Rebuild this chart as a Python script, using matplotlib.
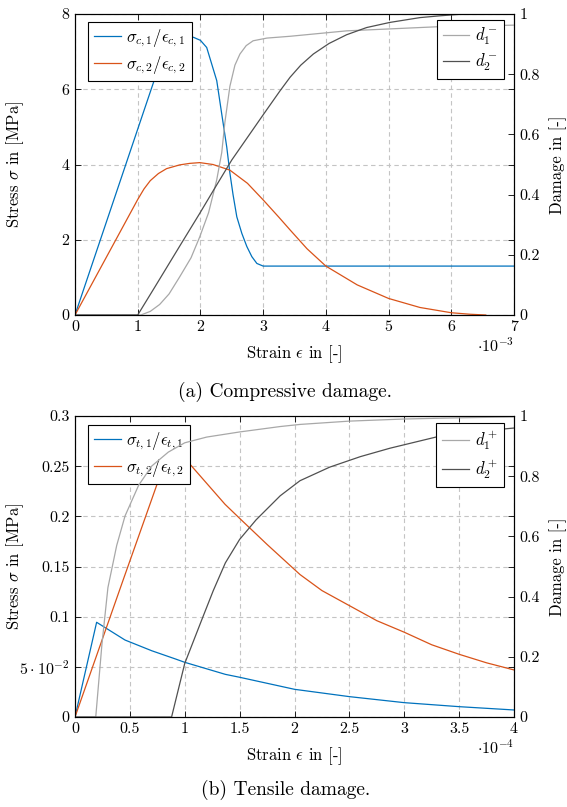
import numpy as np
import matplotlib
matplotlib.use('Agg')
import matplotlib.pyplot as plt

plt.rcParams['font.family'] = 'serif'
plt.rcParams['font.serif'] = ['cmr10']
plt.rcParams['mathtext.fontset'] = 'cm'
plt.rcParams['axes.unicode_minus'] = False
plt.rcParams['axes.formatter.use_mathtext'] = True
plt.rcParams['font.size'] = 12
plt.rcParams['axes.linewidth'] = 0.8

BLUE = '#0072bd'
ORANGE = '#d95319'
LIGHT = '#a8a8a8'
DARK = '#505050'
GRID = '#c4c4c4'

## COMPRESSIVE DATA (strain in 1e-3, stress in MPa)
eps_c1 = [0, 1.0, 1.3, 1.45, 1.6, 1.75, 1.89, 2.0, 2.1, 2.26, 2.34, 2.42, 2.47,
          2.52, 2.58, 2.66, 2.74, 2.82, 2.9, 3.0, 7.0]
sig_c1 = [0, 4.94, 6.42, 7.02, 7.3, 7.4, 7.38, 7.3, 7.11, 6.23, 5.34, 4.46, 3.77,
          3.2, 2.61, 2.17, 1.82, 1.55, 1.37, 1.30, 1.30]

eps_c2 = [0, 1.0, 1.1, 1.2, 1.33, 1.46, 1.67, 1.83, 1.99, 2.2, 2.47, 2.75, 3.0,
          3.25, 3.43, 3.7, 4.0, 4.5, 5.0, 5.5, 6.0, 6.3, 6.55]
sig_c2 = [0, 3.07, 3.35, 3.57, 3.76, 3.89, 3.99, 4.03, 4.05, 4.0, 3.85, 3.5, 3.06,
          2.6, 2.26, 1.76, 1.30, 0.80, 0.44, 0.20, 0.06, 0.02, 0.0]

eps_d1c = [0, 1.05, 1.2, 1.35, 1.5, 1.67, 1.85, 1.99, 2.13, 2.26, 2.34, 2.39,
           2.47, 2.55, 2.63, 2.73, 2.84, 3.06, 3.43, 4.33, 5.82, 7.0]
d1c = [0, 0, 0.012, 0.035, 0.07, 0.127, 0.19, 0.26, 0.34, 0.449, 0.54, 0.64,
       0.76, 0.83, 0.867, 0.895, 0.911, 0.92, 0.926, 0.944, 0.958, 0.963]

eps_d2c = [0, 1.0, 1.25, 1.67, 1.99, 2.21, 2.5, 3.0, 3.27, 3.43, 3.6, 3.8, 4.05,
           4.33, 4.65, 5.02, 5.5, 5.82, 6.2, 7.0]
d2c = [0, 0, 0.085, 0.229, 0.338, 0.415, 0.515, 0.665, 0.745, 0.79, 0.83, 0.867,
       0.902, 0.931, 0.955, 0.972, 0.988, 0.994, 1.0, 1.0]

## TENSILE DATA (strain in 1e-4, stress in MPa)
eps_t1 = [0, 0.197, 0.456, 0.7, 0.911, 1.0, 1.37, 1.5, 2.0, 2.5, 3.0, 3.5, 4.0]
sig_t1 = [0, 0.0944, 0.0767, 0.066, 0.058, 0.0545, 0.0425, 0.0396, 0.0276,
          0.0203, 0.0143, 0.0103, 0.0070]

eps_t2 = [0, 0.44, 0.78, 0.88, 1.063, 1.367, 1.5, 1.75, 2.05, 2.25, 2.5, 2.75,
          3.0, 3.25, 3.5, 3.75, 4.0]
sig_t2 = [0, 0.137, 0.242, 0.273, 0.250, 0.212, 0.198, 0.172, 0.142, 0.126,
          0.111, 0.096, 0.0845, 0.072, 0.0625, 0.054, 0.0469]

eps_d1t = [0, 0.189, 0.245, 0.30, 0.38, 0.456, 0.58, 0.70, 0.85, 1.0, 1.2,
           1.5, 1.87, 2.05, 2.5, 3.0, 3.5, 4.0]
d1t = [0, 0, 0.24, 0.43, 0.57, 0.668, 0.77, 0.834, 0.88, 0.911, 0.93, 0.947,
       0.965, 0.972, 0.983, 0.99, 0.994, 0.997]

eps_d2t = [0, 0.88, 1.0, 1.154, 1.26, 1.37, 1.5, 1.65, 1.87, 2.05, 2.32, 2.6,
           2.87, 3.3, 3.7, 4.0]
d2t = [0, 0, 0.178, 0.322, 0.42, 0.512, 0.59, 0.655, 0.735, 0.785, 0.83, 0.865,
       0.893, 0.931, 0.95, 0.96]

## PLOTS

def styleAxes(ax1, ax2, xlim, ylim, xticks, yticks, ylabels, scale):
  ax1.set(xlim=xlim, ylim=ylim)
  ax2.set(ylim=[0, 1])
  ax1.set_xticks(xticks)
  ax1.set_xticklabels(['{:g}'.format(t) for t in xticks])
  ax1.set_yticks(yticks)
  ax1.set_yticklabels(ylabels)
  ax2.set_yticks([0, 0.2, 0.4, 0.6, 0.8, 1.0])
  ax2.set_yticklabels(['0', '0.2', '0.4', '0.6', '0.8', '1'])
  ax1.grid(True, color=GRID, ls=(0, (4, 3)), lw=0.8)
  ax1.set_axisbelow(True)
  ax1.tick_params(direction='in', length=4, width=0.6, pad=4,
                  top=True, right=True, labelsize=11.5)
  ax2.tick_params(direction='in', length=4, width=0.6, pad=4, labelsize=11.5)
  ax1.set_xlabel(r'Strain $\epsilon$ in [-]', fontsize=12)
  ax1.xaxis.set_label_coords(0.5, -0.095)
  ax1.set_ylabel(r'Stress $\sigma$ in [MPa]', fontsize=12)
  ax1.yaxis.set_label_coords(-0.112, 0.5)
  ax2.set_ylabel('Damage in [-]', fontsize=12)
  ax2.yaxis.set_label_coords(1.081, 0.5)
  ax1.text(1.0, -0.102, r'$\cdot10^{%d}$' % scale, transform=ax1.transAxes,
           ha='right', va='center', fontsize=11.5)

def legendBox(ax, loc, anchor):
  leg = ax.legend(loc=loc, bbox_to_anchor=anchor, borderaxespad=0,
                  fancybox=False, framealpha=1, edgecolor='k',
                  handlelength=1.6, handletextpad=0.35, labelspacing=0.3,
                  borderpad=0.35, fontsize=12)
  leg.get_frame().set_linewidth(0.8)
  return leg

fig = plt.figure(figsize=[5.67, 8.07], dpi=100, facecolor='w')

# (a) compressive
axA = fig.add_axes([75/567, 1-315/807, 439/567, 301/807])
axA2 = axA.twinx()
axA.plot(eps_c1, sig_c1, c=BLUE, lw=0.9, label=r'$\sigma_{c,1}/\epsilon_{c,1}$')
axA.plot(eps_c2, sig_c2, c=ORANGE, lw=0.9, label=r'$\sigma_{c,2}/\epsilon_{c,2}$')
axA2.plot(eps_d1c, d1c, c=LIGHT, lw=0.9, label=r'$d_1^-$')
axA2.plot(eps_d2c, d2c, c=DARK, lw=0.9, label=r'$d_2^-$')
styleAxes(axA, axA2, [0, 7], [0, 8], list(range(8)), [0, 2, 4, 6, 8],
          ['0', '2', '4', '6', '8'], -3)
legendBox(axA, 'upper left', (13/439, 1-8/301))
legendBox(axA2, 'upper right', (1-10/439, 1-6/301))
fig.text(285/567, 1-392/807, '(a) Compressive damage.', ha='center', va='center',
         fontsize=14)

# (b) tensile
axB = fig.add_axes([75/567, 1-717/807, 439/567, 301/807])
axB2 = axB.twinx()
axB.plot(eps_t1, sig_t1, c=BLUE, lw=0.9, label=r'$\sigma_{t,1}/\epsilon_{t,1}$')
axB.plot(eps_t2, sig_t2, c=ORANGE, lw=0.9, label=r'$\sigma_{t,2}/\epsilon_{t,2}$')
axB2.plot(eps_d1t, d1t, c=LIGHT, lw=0.9, label=r'$d_1^+$')
axB2.plot(eps_d2t, d2t, c=DARK, lw=0.9, label=r'$d_2^+$')
styleAxes(axB, axB2, [0, 4], [0, 0.3], [0, 0.5, 1, 1.5, 2, 2.5, 3, 3.5, 4],
          [0, 0.05, 0.1, 0.15, 0.2, 0.25, 0.3],
          ['0', r'$5\cdot10^{-2}$', '0.1', '0.15', '0.2', '0.25', '0.3'], -4)
legendBox(axB, 'upper left', (13/439, 1-9/301))
legendBox(axB2, 'upper right', (1-10/439, 1-7/301))
fig.text(286/567, 1-790/807, '(b) Tensile damage.', ha='center', va='center',
         fontsize=14)

fig.savefig('out.png', dpi=100, facecolor='w')
